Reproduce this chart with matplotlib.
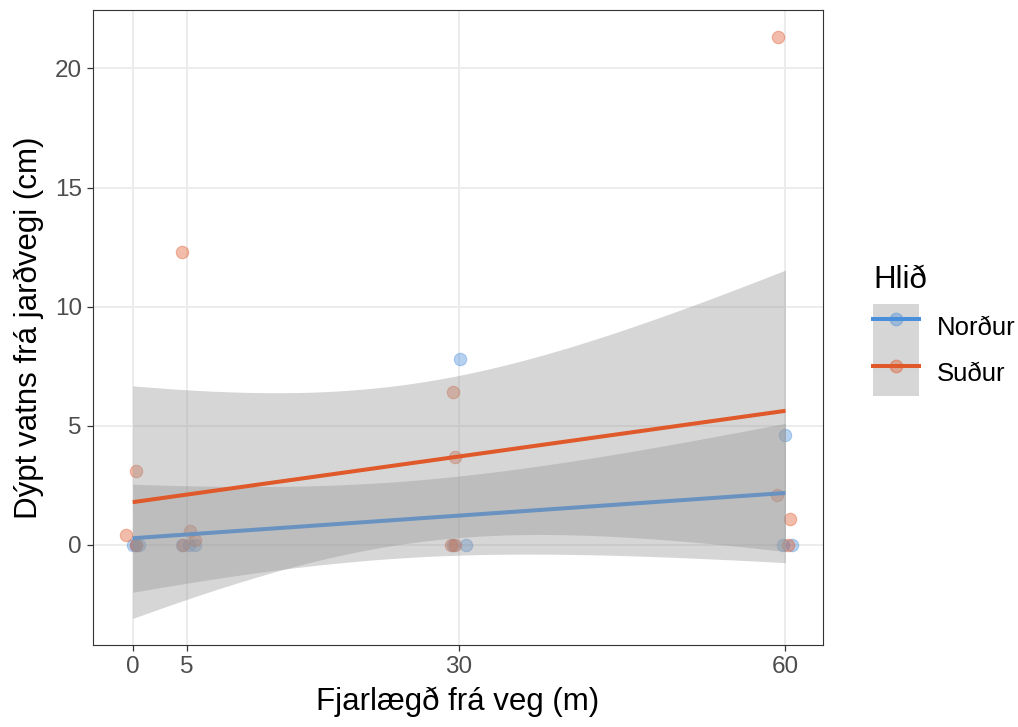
import numpy as np
import matplotlib
matplotlib.use("Agg")
import matplotlib.pyplot as plt
from matplotlib.patches import Patch
from matplotlib.lines import Line2D
from matplotlib.legend_handler import HandlerTuple

plt.rcParams["font.family"] = ["Liberation Sans", "DejaVu Sans"]

# distance from road (m) as measured, depth of water table (cm)
nordur_x = [0, 0, 0, 5, 5, 5, 30, 30, 30, 60, 60, 60]
nordur_y = [0, 0, 0, 0, 0, 0, 7.8, 0, 0, 4.6, 0, 0]
# jittered x positions as drawn
nordur_xj = [0.0, 0.55, 0.3, 4.57, 5.76, 5.2, 30.05, 29.4, 30.67, 59.93, 59.74, 60.63]

sudur_x = [0, 0, 0, 5, 5, 5, 5, 30, 30, 30, 30, 60, 60, 60, 60]
sudur_y = [3.1, 0.4, 0, 12.3, 0.6, 0.2, 0, 6.4, 3.7, 0, 0, 21.3, 2.1, 1.1, 0]
sudur_xj = [0.34, -0.58, 0.3, 4.5, 5.24, 5.7, 4.6, 29.4, 29.6, 29.3, 29.6,
            59.3, 59.25, 60.45, 60.2]

GROUPS = [("Norður", nordur_x, nordur_y, nordur_xj, "#4A8FDB"),
          ("Suður", sudur_x, sudur_y, sudur_xj, "#E0592B")]

X_TICKS = [0, 5, 30, 60]
Y_TICKS = [0, 5, 10, 15, 20]

# t(0.975) for the residual degrees of freedom used here
T975 = {10: 2.228139, 13: 2.160369}


def lm_band(x, y, grid):
    x = np.asarray(x, float)
    y = np.asarray(y, float)
    n = len(x)
    b, a = np.polyfit(x, y, 1)
    fit = a + b * grid
    resid = y - (a + b * x)
    s = np.sqrt(np.sum(resid ** 2) / (n - 2))
    sxx = np.sum((x - x.mean()) ** 2)
    se = s * np.sqrt(1 / n + (grid - x.mean()) ** 2 / sxx)
    t = T975[n - 2]
    return fit, fit - t * se, fit + t * se


fig = plt.figure(figsize=(10.18, 7.27), dpi=100)
ax = fig.add_axes([93 / 1018, 82 / 727, 730 / 1018, 635 / 727])

grid = np.linspace(0, 60, 100)
z = 3
for name, x, y, xj, color in GROUPS:
    ax.scatter(xj, y, s=80, color=color, alpha=0.4, linewidths=0.8,
               edgecolors=color, zorder=2)
for name, x, y, xj, color in GROUPS:
    fit, lo, hi = lm_band(x, y, grid)
    ax.fill_between(grid, lo, hi, color="#999999", alpha=0.4, linewidth=0, zorder=z)
    ax.plot(grid, fit, color=color, lw=2.9, zorder=z + 1, solid_capstyle="butt")
    z += 2

ax.set_xlim(-3.65, 63.45)
ax.set_ylim(-4.2, 22.45)
ax.set_xticks(X_TICKS)
ax.set_yticks(Y_TICKS)
ax.grid(color="#EBEBEB", lw=1.3)
ax.set_axisbelow(True)
for sp in ax.spines.values():
    sp.set_color("#333333")
    sp.set_linewidth(0.8)
ax.tick_params(colors="#333333", labelcolor="#4D4D4D", labelsize=17.5,
               length=4.5, width=0.9)
ax.set_xlabel("Fjarlægð frá veg (m)", fontsize=22.5, labelpad=6)
ax.set_ylabel("Dýpt vatns frá jarðvegi (cm)", fontsize=22.5, labelpad=8)

handles = []
for name, x, y, xj, color in GROUPS:
    handles.append((Patch(facecolor="#D6D6D6", edgecolor="none"),
                    Line2D([], [], color=color, lw=2.9),
                    Line2D([], [], color=color, marker="o", markersize=9,
                           alpha=0.4, linestyle="none")))
leg = ax.legend(handles, [g[0] for g in GROUPS],
                handler_map={tuple: HandlerTuple(ndivide=1, pad=0)},
                loc="upper left", bbox_to_anchor=(873 / 1018, 1 - 265 / 727),
                bbox_transform=fig.transFigure, frameon=False, fontsize=18.5,
                title="Hlið", title_fontsize=22.5, alignment="left",
                handlelength=1.8, handleheight=2.38, handletextpad=0.7,
                labelspacing=0, borderpad=0, borderaxespad=0)
leg._legend_box.sep = 6.5  # gap between title and keys

fig.savefig("out.png", dpi=100)
